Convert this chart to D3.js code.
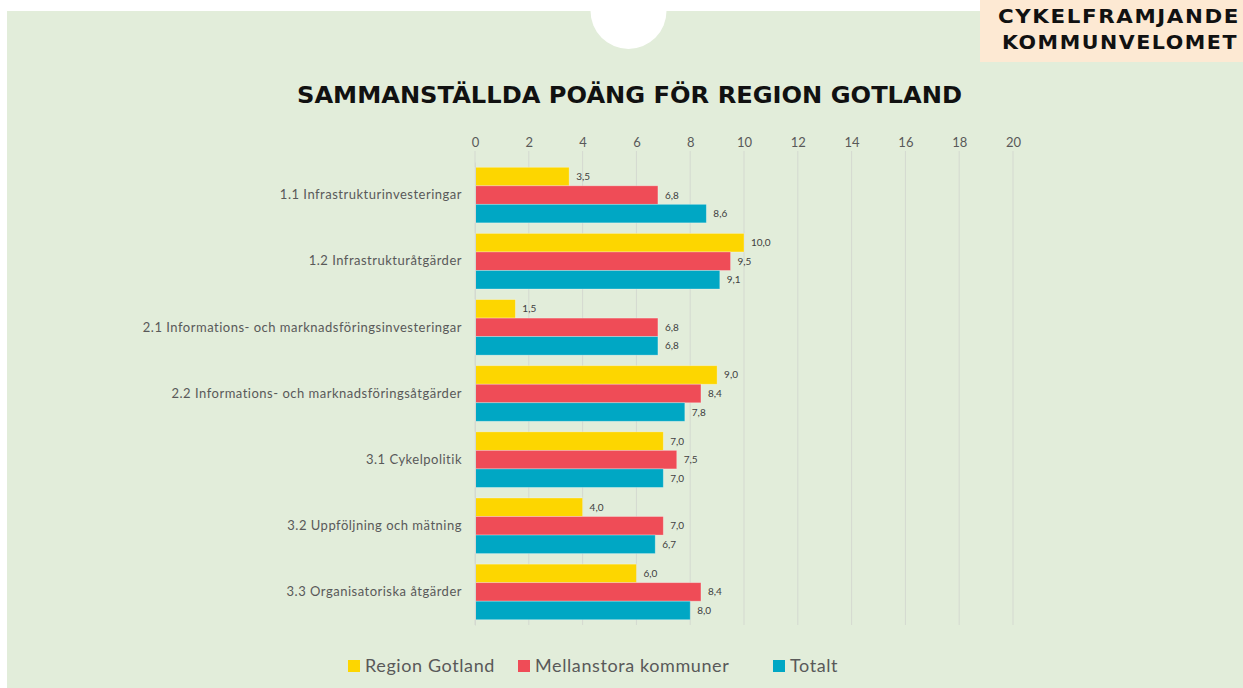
<!DOCTYPE html>
<html><head><meta charset="utf-8">
<script src="https://cdn.jsdelivr.net/npm/d3@7"></script>
<style>body{margin:0;background:#fff;overflow:hidden}svg{display:block}</style>
</head><body>
<svg id="c" width="1243" height="688"></svg>
<script>
const categories = [
  "1.1 Infrastrukturinvesteringar",
  "1.2 Infrastrukturåtgärder",
  "2.1 Informations- och marknadsföringsinvesteringar",
  "2.2 Informations- och marknadsföringsåtgärder",
  "3.1 Cykelpolitik",
  "3.2 Uppföljning och mätning",
  "3.3 Organisatoriska åtgärder"
];
const seriesNames = ["Region Gotland", "Mellanstora kommuner", "Totalt"];
const regionGotland = [3.5, 10.0, 1.5, 9.0, 7.0, 4.0, 6.0];
const mellanstora   = [6.8, 9.5, 6.8, 8.4, 7.5, 7.0, 8.4];
const totalt        = [8.6, 9.1, 6.8, 7.8, 7.0, 6.7, 8.0];
const xTicks = [0, 2, 4, 6, 8, 10, 12, 14, 16, 18, 20];
const colors = ["#FDD600", "#EF4C57", "#00A7C4"];
const title = "SAMMANSTÄLLDA POÄNG FÖR REGION GOTLAND";
const brand = ["CYKELFRAMJANDE", "KOMMUNVELOMET"];

const svg = d3.select("#c");
const W = 1243, H = 688;
const font = "Lato, 'Open Sans', sans-serif";

// background
svg.append("rect").attr("x", 7).attr("y", 11).attr("width", W - 7).attr("height", H - 11).attr("fill", "#E2EDDA");
svg.append("circle").attr("cx", 628.5).attr("cy", 11).attr("r", 38).attr("fill", "#fff");
svg.append("rect").attr("x", 980).attr("y", 0).attr("width", 263).attr("height", 62).attr("fill", "#FDE9D3");
const brandX = [998, 1002], brandY = [23, 49], brandLen = [242, 236];
brand.forEach((t, i) => {
  svg.append("text").attr("x", brandX[i]).attr("y", brandY[i])
    .attr("font-family", "'DejaVu Sans', sans-serif").attr("font-weight", "bold")
    .attr("font-size", 20).attr("letter-spacing", 1.5).attr("fill", "#111")
    .attr("textLength", brandLen[i]).attr("lengthAdjust", "spacingAndGlyphs").text(t);
});

svg.append("text").attr("x", 297).attr("y", 103)
  .attr("font-family", "'DejaVu Sans', sans-serif").attr("font-weight", "bold")
  .attr("font-size", 23).attr("fill", "#111")
  .attr("textLength", 665).attr("lengthAdjust", "spacingAndGlyphs").text(title);

const x = d3.scaleLinear().domain([0, 20]).range([475, 1013]);
const y0 = d3.scaleBand().domain(categories).range([162, 625]).paddingInner(0.16).paddingOuter(0.08);
const y1 = d3.scaleBand().domain(seriesNames).range([0, y0.bandwidth()]);

const g = svg.append("g");
// gridlines
g.selectAll("line.grid").data(xTicks).join("line")
  .attr("x1", d => x(d)).attr("x2", d => x(d)).attr("y1", 151).attr("y2", 625)
  .attr("stroke", "#D4D9D0").attr("stroke-width", 1);

// top axis
const ax = svg.append("g").attr("transform", "translate(0,151)")
  .call(d3.axisTop(x).tickValues(xTicks).tickSize(0).tickPadding(4));
ax.select(".domain").remove();
ax.selectAll("text").attr("font-family", font).attr("font-size", 13).attr("fill", "#595959");

const data = [regionGotland, mellanstora, totalt];
const rows = categories.map((c, i) => ({ c, vals: seriesNames.map((s, j) => ({ s, j, v: data[j][i] })) }));
const grp = svg.append("g").selectAll("g").data(rows).join("g")
  .attr("transform", d => `translate(0,${y0(d.c)})`);
grp.selectAll("rect").data(d => d.vals).join("rect")
  .attr("x", x(0)).attr("y", d => y1(d.s)).attr("width", d => x(d.v) - x(0)).attr("height", y1.bandwidth())
  .attr("fill", d => colors[d.j]).attr("stroke", "rgba(255,255,255,0.35)").attr("stroke-width", 0.8);
grp.selectAll("text").data(d => d.vals).join("text")
  .attr("x", d => x(d.v) + 7).attr("y", d => y1(d.s) + y1.bandwidth() / 2 + 3.5)
  .attr("font-family", font).attr("font-size", 10).attr("fill", "#404040")
  .text(d => d3.format(".1f")(d.v).replace(".", ","));

// category axis
const ay = svg.append("g").attr("transform", `translate(${x(0)},0)`)
  .call(d3.axisLeft(y0).tickSize(0).tickPadding(13));
ay.select(".domain").attr("stroke", "#D4D9D0");
ay.selectAll("text").attr("font-family", font).attr("font-size", 13)
  .attr("letter-spacing", 0.5).attr("fill", "#595959");

// legend
const legX = [348, 518, 773];
const leg = svg.append("g").selectAll("g").data(seriesNames).join("g")
  .attr("transform", (d, i) => `translate(${legX[i]},660)`);
leg.append("rect").attr("width", 12).attr("height", 12).attr("fill", (d, i) => colors[i]);
leg.append("text").attr("x", 17).attr("y", 12).attr("font-family", font).attr("font-size", 18)
  .attr("letter-spacing", 0.6).attr("fill", "#595959").text(d => d);
</script>
</body></html>
